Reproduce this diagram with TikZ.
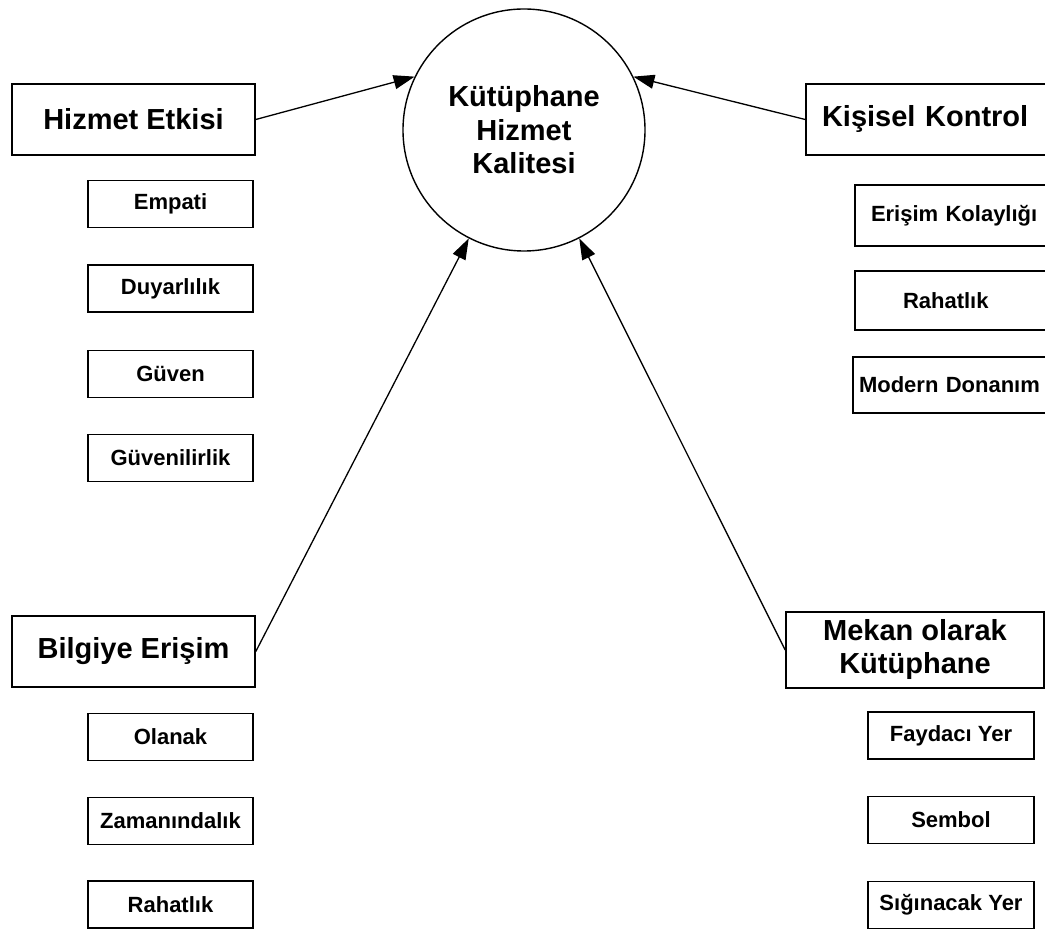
\documentclass[tikz,border=0pt]{standalone}
\usepackage{fontspec}
\setmainfont{Liberation Sans}
\usetikzlibrary{arrows.meta,positioning}

\begin{document}
\begin{tikzpicture}[x=1pt, y=1pt,
    bigbox/.style={draw, line width=1.6pt, inner sep=0pt, align=center, font=\fontsize{29}{33}\selectfont\bfseries},
    smallbox/.style={draw, line width=1.6pt, inner sep=0pt, minimum height=47pt, align=center, font=\fontsize{22}{26}\selectfont\bfseries},
    hub/.style={draw, circle, line width=1.4pt, minimum size=242pt, inner sep=0pt, align=center, font=\fontsize{29}{33.5}\selectfont\bfseries},
    link/.style={line width=1.3pt, -{Triangle[length=21pt, width=14pt]}}]
    \useasboundingbox (0,0) rectangle (1045,929);

    % centre
    \node[hub] (kalite) at (524,799) {K\"ut\"uphane\\Hizmet\\Kalitesi};

    % four dimensions
    \node[bigbox, minimum width=243pt, minimum height=71pt] (etki) at (133.5,809.5) {Hizmet Etkisi};
    \node[bigbox, minimum width=244pt, minimum height=71pt, text width=244pt, align=left] (kontrol) at (928,809.5) {\hspace*{16pt}Ki\c{s}isel Kontrol};
    \node[bigbox, minimum width=243pt, minimum height=71pt] (bilgi) at (133.5,277.5) {Bilgiye Eri\c{s}im};
    \node[bigbox, minimum width=258pt, minimum height=76pt] (mekan) at (915,279) {Mekan olarak\\K\"ut\"uphane};

    % Hizmet Etkisi items
    \node[smallbox, minimum width=165pt] (empati) at (170.5,725) {Empati};
    \node[smallbox, minimum width=165pt] (duyar) at (170.5,640.5) {Duyarl\i l\i k};
    \node[smallbox, minimum width=165pt] (guven) at (170.5,555) {G\"uven};
    \node[smallbox, minimum width=165pt] (guvenilir) at (170.5,471) {G\"uvenilirlik};

    % Kisisel Kontrol items
    \node[smallbox, minimum width=195pt, minimum height=61pt, text width=195pt, align=left] (erisim) at (952.5,713.5) {\hspace*{16pt}Eri\c{s}im Kolayl\i\u{g}\i};
    \node[smallbox, minimum width=195pt, minimum height=59pt, text width=195pt, align=left] (rahat) at (952.5,628.5) {\hspace*{48pt}Rahatl\i k};
    \node[smallbox, minimum width=197pt, minimum height=56pt, text width=197pt, align=left] (donanim) at (951.5,544) {\hspace*{6pt}Modern Donan\i m};

    % Bilgiye Erisim items
    \node[smallbox, minimum width=165pt] (olanak) at (170.5,192) {Olanak};
    \node[smallbox, minimum width=165pt] (zaman) at (170.5,108) {Zaman\i ndal\i k};
    \node[smallbox, minimum width=165pt] (rahat2) at (170.5,24.5) {Rahatl\i k};

    % Mekan olarak Kutuphane items
    \node[smallbox, minimum width=166pt] (fayda) at (951,193.5) {Faydac\i\ Yer};
    \node[smallbox, minimum width=166pt] (sembol) at (951,109) {Sembol};
    \node[smallbox, minimum width=166pt] (sigin) at (951,24) {S\i\u{g}\i nacak Yer};

    \draw[link] (etki.east) -- (kalite.154);
    \draw[link] (kontrol.west) -- (kalite.26.5);
    \draw[link] (bilgi.east) -- (kalite.243);
    \draw[link] (mekan.west) -- (kalite.297);
\end{tikzpicture}
\end{document}
